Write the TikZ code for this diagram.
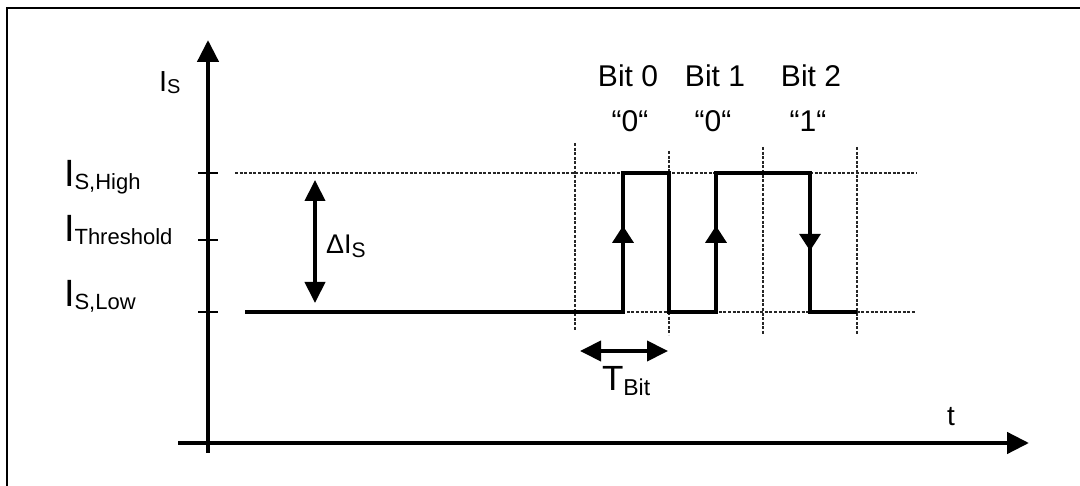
\documentclass[tikz,border=0pt]{standalone}
\usepackage{fontspec}
\setmainfont{Liberation Sans}
\usetikzlibrary{arrows.meta,decorations.markings}
\newcommand{\subsym}[5]{{\fontsize{#1}{#1}\selectfont #2}{\fontsize{#3}{#3}\selectfont\raisebox{-#4}{#5}}}
\tikzset{
  axisline/.style={line width=4.5pt},
  axishead/.style={-{Triangle[length=22pt,width=21pt]}},
  dblarrow/.style={line width=4pt,{Triangle[length=21pt,width=20pt]}-{Triangle[length=21pt,width=20pt]}},
  tickline/.style={line width=1.6pt},
  guide/.style={line width=1.4pt,black!85,dash pattern=on 3pt off 1.6pt},
  sig/.style={line width=3.3pt,line join=miter},
  midarrow/.style={postaction={decorate},decoration={markings,mark=at position #1 with {\arrow{Triangle[length=17pt,width=21pt]}}}},
  lbl/.style={inner sep=0pt,outer sep=0pt},
}
\begin{document}
\begin{tikzpicture}[x=1pt,y=-1pt]
\useasboundingbox (0,0) rectangle (1080,486);
\draw[line width=2.4pt] (7,8) rectangle (1110,520);

% axes
\coordinate (yb) at (208,453);
\coordinate (yt) at (208,40);
\coordinate (xl) at (178,443);
\coordinate (xr) at (1029,443);
\draw[axisline,axishead] (yb) -- (yt);
\draw[axisline,axishead] (xl) -- (xr);

% ticks
\coordinate (th1) at (198,173); \coordinate (th2) at (218,173);
\coordinate (tt1) at (198,240); \coordinate (tt2) at (218,240);
\coordinate (tl1) at (198,312); \coordinate (tl2) at (218,312);
\draw[tickline] (th1) -- (th2);
\draw[tickline] (tt1) -- (tt2);
\draw[tickline] (tl1) -- (tl2);

% axis labels
\node[lbl,anchor=base west] (is) at (159,92) {\subsym{29pt}{I}{20pt}{2pt}{S}};
\node[lbl,anchor=base west] (ihigh) at (64,187) {\subsym{38pt}{I}{22pt}{3pt}{S,High}};
\node[lbl,anchor=base west] (ithr) at (64,242) {\subsym{38pt}{I}{22pt}{3pt}{Threshold}};
\node[lbl,anchor=base west] (ilow) at (64,307) {\subsym{38pt}{I}{22pt}{3pt}{S,Low}};
\node[lbl,anchor=base west] (tlab) at (947,426) {\fontsize{28pt}{28pt}\selectfont t};

% guide lines
\coordinate (gh1) at (235,173); \coordinate (gh2) at (917,173);
\coordinate (gl1) at (245,312); \coordinate (gl2) at (915,312);
\draw[guide] (gh1) -- (gh2);
\draw[guide] (gl1) -- (gl2);
\coordinate (v1a) at (575,143); \coordinate (v1b) at (575,331);
\coordinate (v2a) at (669,151); \coordinate (v2b) at (669,335);
\coordinate (v3a) at (763,147); \coordinate (v3b) at (763,335);
\coordinate (v4a) at (857,147); \coordinate (v4b) at (857,335);
\draw[guide] (v1a) -- (v1b);
\draw[guide] (v2a) -- (v2b);
\draw[guide] (v3a) -- (v3b);
\draw[guide] (v4a) -- (v4b);

% delta I_S
\coordinate (d1) at (315,180);
\coordinate (d2) at (315,303);
\draw[dblarrow] (d1) -- (d2);
\node[lbl,anchor=base west] (dis) at (326,254) {\subsym{27pt}{ΔI}{21pt}{4pt}{S}};

% signal
\coordinate (s0) at (245,312);
\coordinate (s1) at (623,312);
\coordinate (s2) at (623,173);
\coordinate (s3) at (669,173);
\coordinate (s4) at (669,312);
\coordinate (s5) at (716,312);
\coordinate (s6) at (716,173);
\coordinate (s7) at (810,173);
\coordinate (s8) at (810,312);
\coordinate (s9) at (857,312);
\draw[sig] (s0) -- (s1) -- (s2) -- (s3) -- (s4) -- (s5) -- (s6) -- (s7) -- (s8) -- (s9);
\draw[sig,midarrow=0.62] (s1) -- (s2);
\draw[sig,midarrow=0.62] (s5) -- (s6);
\draw[sig,midarrow=0.56] (s7) -- (s8);

% bit labels
\node[lbl,anchor=base] (b0) at (628,87) {\fontsize{30pt}{30pt}\selectfont Bit 0};
\node[lbl,anchor=base] (b1) at (715,87) {\fontsize{30pt}{30pt}\selectfont Bit 1};
\node[lbl,anchor=base] (b2) at (811,87) {\fontsize{30pt}{30pt}\selectfont Bit 2};
\node[lbl,anchor=base] (q0) at (630,132) {\fontsize{30pt}{30pt}\selectfont “0“};
\node[lbl,anchor=base] (q1) at (713,132) {\fontsize{30pt}{30pt}\selectfont “0“};
\node[lbl,anchor=base] (q2) at (808,132) {\fontsize{30pt}{30pt}\selectfont “1“};

% T_Bit
\coordinate (tb1) at (580,351);
\coordinate (tb2) at (668,351);
\draw[dblarrow] (tb1) -- (tb2);
\node[lbl,anchor=base west] (tbit) at (602,391) {\subsym{35pt}{T}{23pt}{5pt}{Bit}};
\end{tikzpicture}
\end{document}
